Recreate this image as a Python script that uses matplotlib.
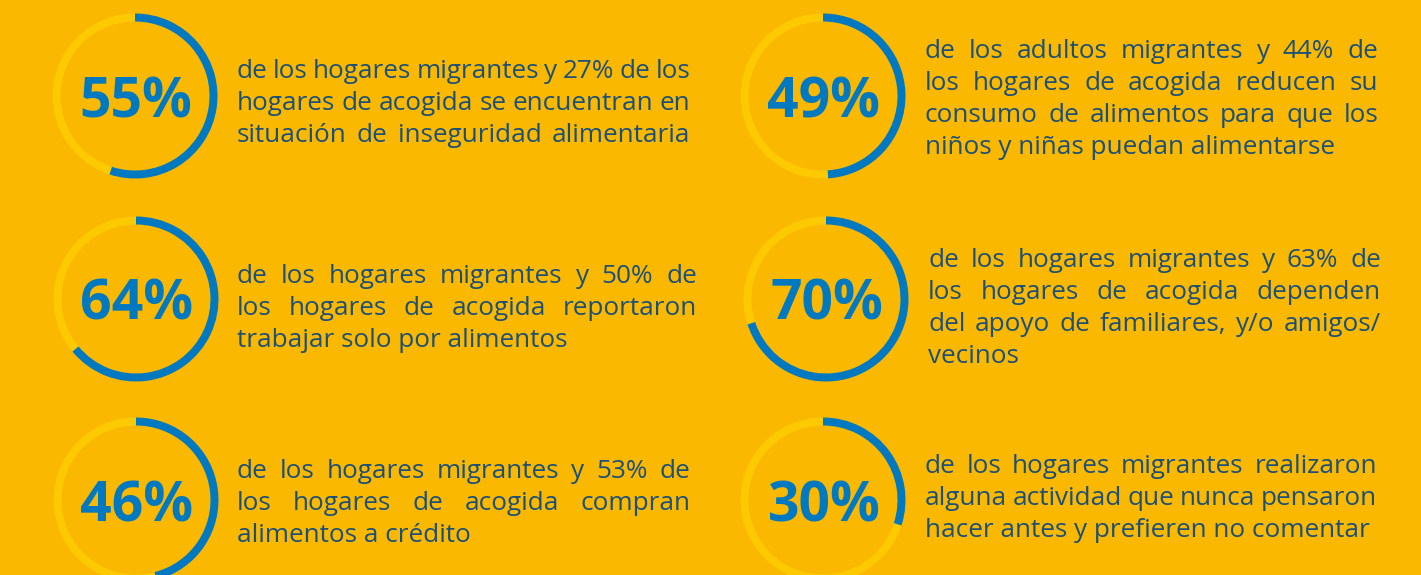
import matplotlib
matplotlib.use("Agg")
import matplotlib.pyplot as plt
from matplotlib.patches import Wedge

# ---------------- data ----------------
percentages = [55, 49, 64, 70, 46, 30]
descriptions = [
    ["de los hogares migrantes y 27% de los",
     "hogares de acogida se encuentran en",
     "situación de inseguridad alimentaria"],
    ["de los adultos migrantes y 44% de",
     "los hogares de acogida reducen su",
     "consumo de alimentos para que los",
     "niños y niñas puedan alimentarse"],
    ["de los hogares migrantes y 50% de",
     "los hogares de acogida reportaron",
     "trabajar solo por alimentos"],
    ["de los hogares migrantes y 63% de",
     "los hogares de acogida dependen",
     "del apoyo de familiares, y/o amigos/",
     "vecinos"],
    ["de los hogares migrantes y 53% de",
     "los hogares de acogida compran",
     "alimentos a crédito"],
    ["de los hogares migrantes realizaron",
     "alguna actividad que nunca pensaron",
     "hacer antes y prefieren no comentar"],
]

# ---------------- layout / style ----------------
W, H = 1421, 575
BG = "#FBB800"
BLUE = "#0079C1"
LIGHT = "#FDC900"
TXT = "#1B5079"
FONT = "Open Sans"
PCT_FONT = "Open Sans"

centers = [(135, 96), (823, 96), (136, 299), (826, 299), (136, 500), (823, 500)]
R_OUT = 82.5
RING_W = 8
# text blocks: left x, right x, first baseline y, justify last line
blocks = [(237, 690, 78, True), (925, 1378, 58, False), (237, 697, 283, False),
          (928, 1381, 267, False), (237, 690, 478, False), (925, 1377, 473, False)]
LINE_H = 32

fig = plt.figure(figsize=(W / 100, H / 100), dpi=100)
fig.patch.set_facecolor(BG)
ax = fig.add_axes([0, 0, 1, 1])
ax.set_xlim(0, W)
ax.set_ylim(0, H)
ax.set_aspect("equal")
ax.axis("off")
ax.set_facecolor(BG)

renderer = fig.canvas.get_renderer()


def text_width(s, size, family, weight="normal"):
    t = ax.text(0, 0, s, fontsize=size, family=family, fontweight=weight)
    w = t.get_window_extent(renderer).width
    t.remove()
    return w


# fit body font size to the reference width of an unjustified line
ref_w = text_width("trabajar solo por alimentos", 10, FONT)
BODY_FS = 10 * 330 / ref_w
ref_wp = text_width("55%", 10, PCT_FONT, "bold")
PCT_FS = 10 * 112 / ref_wp

for i, p in enumerate(percentages):
    cx, cy_px = centers[i]
    cy = H - cy_px
    ang = 360 * p / 100
    ax.add_patch(Wedge((cx, cy), R_OUT, 90, 90 + 360 - ang, width=RING_W,
                       facecolor=LIGHT, edgecolor="none"))
    ax.add_patch(Wedge((cx, cy), R_OUT, 90 - ang, 90, width=RING_W,
                       facecolor=BLUE, edgecolor="none"))
    ax.text(cx + 1, cy, f"{p}%", fontsize=PCT_FS, family=PCT_FONT, fontweight="bold",
            color=BLUE, ha="center", va="center_baseline")

    x0, x1, base, just_last = blocks[i]
    lines = descriptions[i]
    for j, line in enumerate(lines):
        y = H - (base + j * LINE_H)
        last = j == len(lines) - 1
        words = line.split()
        if (not last or just_last) and len(words) > 1:
            widths = [text_width(wd, BODY_FS, FONT) for wd in words]
            gap = (x1 - x0 - sum(widths)) / (len(words) - 1)
            x = x0
            for wd, ww in zip(words, widths):
                ax.text(x, y, wd, fontsize=BODY_FS, family=FONT, color=TXT,
                        ha="left", va="baseline")
                x += ww + gap
        else:
            ax.text(x0, y, line, fontsize=BODY_FS, family=FONT, color=TXT,
                    ha="left", va="baseline")

fig.savefig("out.png", dpi=100, facecolor=BG)
